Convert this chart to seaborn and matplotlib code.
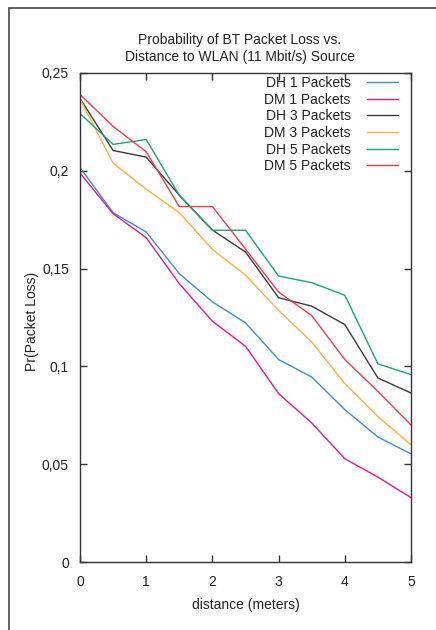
import numpy as np
import pandas as pd
import matplotlib
matplotlib.use("Agg")
import matplotlib.pyplot as plt
import seaborn as sns
from matplotlib.patches import Rectangle

distance = [0, 0.5, 1, 1.5, 2, 2.5, 3, 3.5, 4, 4.5, 5]
dh1 = [0.2017, 0.1786, 0.1687, 0.1474, 0.1330, 0.1223, 0.1035, 0.0946, 0.0779, 0.0639, 0.0553]
dm1 = [0.1988, 0.1781, 0.1658, 0.1423, 0.1231, 0.1103, 0.0861, 0.0711, 0.0528, 0.0434, 0.0329]
dh3 = [0.2370, 0.2104, 0.2070, 0.1875, 0.1697, 0.1585, 0.1351, 0.1308, 0.1214, 0.0941, 0.0864]
dm3 = [0.2367, 0.2039, 0.1906, 0.1786, 0.1598, 0.1467, 0.1286, 0.1125, 0.0912, 0.0744, 0.0599]
dh5 = [0.2293, 0.2135, 0.2160, 0.1875, 0.1696, 0.1696, 0.1462, 0.1428, 0.1364, 0.1013, 0.0958]
dm5 = [0.2390, 0.2227, 0.2097, 0.1817, 0.1817, 0.1600, 0.1380, 0.1260, 0.1035, 0.0872, 0.0700]

series_names = ["DH 1 Packets", "DM 1 Packets", "DH 3 Packets",
                "DM 3 Packets", "DH 5 Packets", "DM 5 Packets"]
series_values = [dh1, dm1, dh3, dm3, dh5, dm5]
colors = ["#3a8fd0", "#e8168e", "#3a3a3a", "#ffb040", "#14a878", "#f03a4a"]

y_ticks = [0, 0.05, 0.1, 0.15, 0.2, 0.25]
y_tick_labels = ["0", "0,05", "0,1", "0,15", "0,2", "0,25"]
x_ticks = [0, 1, 2, 3, 4, 5]

rows = []
for name, vals in zip(series_names, series_values):
    for d, v in zip(distance, vals):
        rows.append({"distance": d, "loss": v, "series": name})
df = pd.DataFrame(rows)

sns.set_theme(style="ticks")
plt.rcParams["font.family"] = ["Liberation Sans", "DejaVu Sans"]

FS = 10
W, H = 436, 630
fig = plt.figure(figsize=(W / 100, H / 100), dpi=100)
ax = fig.add_axes([80 / W, 1 - 562 / H, (411 - 80) / W, (562 - 73) / H])

sns.lineplot(data=df, x="distance", y="loss", hue="series",
             hue_order=series_names, palette=colors, linewidth=1.0,
             ax=ax, legend=True, estimator=None)

ax.set_xlim(0, 5)
ax.set_ylim(0, 0.25)
ax.set_xticks(x_ticks)
ax.set_xticklabels([str(x) for x in x_ticks])
ax.set_yticks(y_ticks)
ax.set_yticklabels(y_tick_labels)
ax.tick_params(direction="in", length=5, width=1.0, color="#333333",
               labelsize=FS, labelcolor="#222222", top=True, right=True, pad=8)
ax.tick_params(axis="x", pad=9)
for s in ax.spines.values():
    s.set_color("#333333")
    s.set_linewidth(1.0)

ax.set_xlabel("distance (meters)", fontsize=FS, color="#222222", labelpad=7)
ax.set_ylabel("")
fig.text(32 / W, 1 - 321 / H, "Pr(Packet Loss)", rotation=90, ha="center",
         va="center", fontsize=FS, color="#222222")

fig.text(240 / W, 1 - 40 / H, "Probability of BT Packet Loss vs.", ha="center",
         va="center", fontsize=FS, color="#222222")
fig.text(240 / W, 1 - 57 / H, "Distance to WLAN (11 Mbit/s) Source", ha="center",
         va="center", fontsize=FS, color="#222222")

handles, labels = ax.get_legend_handles_labels()
ax.legend(handles, labels, loc="upper right", frameon=False, markerfirst=False,
          bbox_to_anchor=(398 / W, 1 - 76 / H), bbox_transform=fig.transFigure,
          borderpad=0, borderaxespad=0, fontsize=FS, handlelength=2.2,
          handletextpad=1.2, labelspacing=0.19, labelcolor="#222222")

fig.patches.append(Rectangle((9 / W, -0.1), 1.2, 1 - 8 / H + 0.1,
                             transform=fig.transFigure, fill=False,
                             edgecolor="#444444", linewidth=1.2))

fig.savefig("out.png", dpi=100)
